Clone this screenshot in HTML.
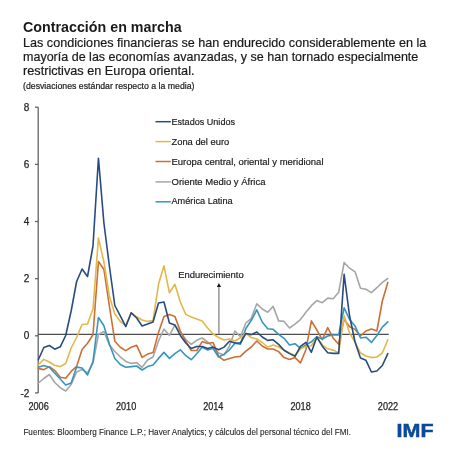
<!DOCTYPE html>
<html><head><meta charset="utf-8"><style>
html,body{margin:0;padding:0;background:#fff;width:455px;height:455px;overflow:hidden}
svg{display:block;will-change:transform}
</style></head><body>
<svg width="455" height="455" viewBox="0 0 455 455" font-family="Liberation Sans, sans-serif">
<rect width="455" height="455" fill="#fff"/>
<text x="23" y="32" font-size="15.2" font-weight="bold" fill="#1a1a1a" textLength="158.6" lengthAdjust="spacingAndGlyphs">Contracción en marcha</text>
<g font-size="12.6" fill="#1a1a1a" stroke="#1a1a1a" stroke-width="0.2">
<text x="23" y="47.1" textLength="403.3" lengthAdjust="spacingAndGlyphs">Las condiciones financieras se han endurecido considerablemente en la</text>
<text x="23" y="61.1" textLength="395.3" lengthAdjust="spacingAndGlyphs">mayoría de las economías avanzadas, y se han tornado especialmente</text>
<text x="23" y="75" textLength="171.5" lengthAdjust="spacingAndGlyphs">restrictivas en Europa oriental.</text>
</g>
<text x="23" y="88.9" font-size="8.8" fill="#1a1a1a" stroke="#1a1a1a" stroke-width="0.2" textLength="171.5" lengthAdjust="spacingAndGlyphs">(desviaciones estándar respecto a la media)</text>
<g stroke="#646464" stroke-width="1.3" fill="none">
<line x1="38.2" y1="107.2" x2="38.2" y2="392.9"/>
<line x1="35" y1="107.2" x2="38.2" y2="107.2"/><line x1="35" y1="164.35" x2="38.2" y2="164.35"/><line x1="35" y1="221.5" x2="38.2" y2="221.5"/><line x1="35" y1="278.65" x2="38.2" y2="278.65"/><line x1="35" y1="335.8" x2="38.2" y2="335.8"/><line x1="35" y1="392.9" x2="38.2" y2="392.9"/>
</g>
<line x1="38" y1="334.3" x2="388.8" y2="334.3" stroke="#4d4d52" stroke-width="1.25"/>
<g font-size="10" fill="#262626" stroke="#262626" stroke-width="0.25" text-anchor="end"><text x="29.4" y="110.8">8</text><text x="29.4" y="167.9">6</text><text x="29.4" y="225.1">4</text><text x="29.4" y="282.2">2</text><text x="29.4" y="339.4">0</text><text x="29.4" y="396.5">-2</text></g>
<g font-size="10" fill="#262626" stroke="#262626" stroke-width="0.25" text-anchor="middle" lengthAdjust="spacingAndGlyphs">
<text x="38.6" y="409.7" textLength="20.3" lengthAdjust="spacingAndGlyphs">2006</text>
<text x="126.1" y="409.7" textLength="20.3" lengthAdjust="spacingAndGlyphs">2010</text>
<text x="213.3" y="409.7" textLength="20.3" lengthAdjust="spacingAndGlyphs">2014</text>
<text x="300.6" y="409.7" textLength="20.3" lengthAdjust="spacingAndGlyphs">2018</text>
<text x="388" y="409.7" textLength="20.3" lengthAdjust="spacingAndGlyphs">2022</text>
</g>
<line x1="218.9" y1="334" x2="218.9" y2="286.5" stroke="#8f8f8f" stroke-width="1.4"/>
<path d="M218.9 283 L216.8 287 L221.1 287 Z" fill="#1a1a1a"/>
<text x="178.2" y="278.1" font-size="9.2" fill="#262626" stroke="#262626" stroke-width="0.2" textLength="65.5" lengthAdjust="spacingAndGlyphs">Endurecimiento</text>
<g fill="none" stroke-width="1.6" stroke-linejoin="round" stroke-linecap="round">
<polyline stroke="#a6a6a6" points="38.40,383.0 43.86,378.5 49.32,374.5 54.78,382.5 60.24,387.7 65.70,391.0 71.16,384.5 76.62,372.0 82.08,369.5 87.53,373.0 92.99,363.0 98.45,334.5 103.91,331.5 109.37,345.0 114.83,351.5 120.29,356.8 125.75,361.4 131.21,363.4 136.67,362.7 142.13,367.3 147.59,360.0 153.05,357.0 158.51,341.0 163.97,329.0 169.43,335.4 174.88,325.0 180.34,332.2 185.80,339.5 191.26,344.3 196.72,340.3 202.18,338.0 207.64,342.0 213.10,347.0 218.56,353.0 224.02,355.0 229.48,345.8 234.94,331.0 240.40,336.7 245.86,323.0 251.32,318.4 256.78,303.8 262.23,309.0 267.69,312.3 273.15,306.4 278.61,320.9 284.07,321.4 289.53,328.0 294.99,324.2 300.45,319.6 305.91,312.3 311.37,305.7 316.83,300.6 322.29,302.7 327.75,298.1 333.21,298.8 338.67,292.2 344.12,262.5 349.58,268.2 355.04,271.8 360.50,288.3 365.96,289.3 371.42,292.6 376.88,287.7 382.34,282.4 387.80,278.5"/>
<polyline stroke="#cd6f34" points="38.40,368.6 43.86,369.6 49.32,366.6 54.78,370.6 60.24,377.2 65.70,378.3 71.16,371.4 76.62,366.4 82.08,349.5 87.53,343.3 92.99,334.8 98.45,261.5 103.91,269.5 109.37,306.0 114.83,341.2 120.29,347.3 125.75,350.6 131.21,347.3 136.67,345.3 142.13,357.4 147.59,354.1 153.05,352.6 158.51,332.4 163.97,316.4 169.43,314.4 174.88,316.4 180.34,331.0 185.80,341.5 191.26,350.5 196.72,350.5 202.18,341.6 207.64,343.5 213.10,342.5 218.56,356.4 224.02,360.3 229.48,358.4 234.94,357.0 240.40,356.4 245.86,351.1 251.32,347.0 256.78,341.0 262.23,346.0 267.69,349.0 273.15,349.0 278.61,351.6 284.07,357.6 289.53,359.6 294.99,357.6 300.45,362.9 305.91,349.7 311.37,320.8 316.83,330.0 322.29,339.6 327.75,327.7 333.21,338.2 338.67,344.2 344.12,319.1 349.58,326.7 355.04,329.4 360.50,335.9 365.96,331.0 371.42,329.0 376.88,331.0 382.34,301.0 387.80,282.4"/>
<polyline stroke="#3696c0" points="38.40,367.3 43.86,365.6 49.32,367.3 54.78,373.2 60.24,379.0 65.70,385.0 71.16,383.0 76.62,367.1 82.08,368.0 87.53,375.0 92.99,361.5 98.45,317.5 103.91,325.7 109.37,344.0 114.83,358.5 120.29,364.5 125.75,367.3 131.21,366.6 136.67,366.0 142.13,370.0 147.59,366.6 153.05,365.0 158.51,358.4 163.97,352.4 169.43,358.4 174.88,353.7 180.34,349.8 185.80,355.7 191.26,359.7 196.72,353.7 202.18,347.1 207.64,350.0 213.10,348.5 218.56,357.0 224.02,354.4 229.48,349.8 234.94,343.2 240.40,344.3 245.86,328.5 251.32,320.3 256.78,309.8 262.23,322.0 267.69,328.7 273.15,329.3 278.61,334.3 284.07,338.3 289.53,345.1 294.99,343.7 300.45,348.4 305.91,345.0 311.37,341.8 316.83,336.7 322.29,339.0 327.75,336.0 333.21,335.0 338.67,335.0 344.12,307.9 349.58,319.5 355.04,326.1 360.50,338.0 365.96,337.2 371.42,342.4 376.88,335.5 382.34,327.1 387.80,321.9"/>
<polyline stroke="#e0b84b" points="38.40,364.7 43.86,359.4 49.32,362.0 54.78,365.3 60.24,366.6 65.70,363.5 71.16,348.0 76.62,337.5 82.08,324.5 87.53,324.0 92.99,309.0 98.45,238.0 103.91,262.0 109.37,296.0 114.83,314.0 120.29,321.5 125.75,325.5 131.21,312.8 136.67,316.8 142.13,320.0 147.59,321.4 153.05,320.5 158.51,284.3 163.97,265.8 169.43,292.8 174.88,284.3 180.34,302.0 185.80,314.4 191.26,317.0 196.72,319.0 202.18,321.0 207.64,328.0 213.10,334.0 218.56,337.5 224.02,340.0 229.48,339.0 234.94,341.0 240.40,337.7 245.86,333.4 251.32,337.5 256.78,339.0 262.23,342.5 267.69,347.0 273.15,345.1 278.61,347.0 284.07,350.3 289.53,353.0 294.99,355.6 300.45,349.0 305.91,346.4 311.37,345.7 316.83,337.1 322.29,344.8 327.75,348.8 333.21,350.1 338.67,352.7 344.12,315.8 349.58,333.0 355.04,342.0 360.50,353.0 365.96,356.0 371.42,357.6 376.88,357.0 382.34,353.0 387.80,339.8"/>
<polyline stroke="#284c7f" points="38.40,359.5 43.86,347.5 49.32,345.5 54.78,349.2 60.24,346.8 65.70,335.5 71.16,311.0 76.62,281.5 82.08,269.0 87.53,276.5 92.99,246.0 98.45,158.3 103.91,223.0 109.37,266.0 114.83,305.5 120.29,315.8 125.75,326.6 131.21,312.8 136.67,318.0 142.13,326.0 147.59,324.0 153.05,322.0 158.51,303.0 163.97,302.0 169.43,323.0 174.88,325.0 180.34,335.5 185.80,343.0 191.26,348.5 196.72,346.5 202.18,346.5 207.64,348.5 213.10,347.1 218.56,349.8 224.02,347.1 229.48,341.2 234.94,343.0 240.40,343.0 245.86,333.5 251.32,334.6 256.78,332.0 262.23,337.0 267.69,340.4 273.15,339.8 278.61,344.4 284.07,350.3 289.53,353.6 294.99,356.3 300.45,346.4 305.91,342.4 311.37,352.3 316.83,337.1 322.29,346.2 327.75,352.7 333.21,353.4 338.67,353.4 344.12,274.4 349.58,316.0 355.04,342.0 360.50,358.0 365.96,360.3 371.42,372.0 376.88,371.0 382.34,365.5 387.80,353.6"/>
</g>
<g stroke-width="1.5">
<line x1="155.5" y1="121.7" x2="170.8" y2="121.7" stroke="#284c7f"/>
<line x1="155.5" y1="141.6" x2="170.8" y2="141.6" stroke="#e0b84b"/>
<line x1="155.5" y1="161.5" x2="170.8" y2="161.5" stroke="#cd6f34"/>
<line x1="155.5" y1="181.9" x2="170.8" y2="181.9" stroke="#a6a6a6"/>
<line x1="155.5" y1="201.8" x2="170.8" y2="201.8" stroke="#3696c0"/>
</g>
<g font-size="9.5" fill="#1a1a1a" stroke="#1a1a1a" stroke-width="0.18">
<text x="171.5" y="125" textLength="63.5" lengthAdjust="spacingAndGlyphs">Estados Unidos</text>
<text x="171.5" y="144.7" textLength="57.7" lengthAdjust="spacingAndGlyphs">Zona del euro</text>
<text x="171.5" y="164.5" textLength="152" lengthAdjust="spacingAndGlyphs">Europa central, oriental y meridional</text>
<text x="171.5" y="184.5" textLength="94" lengthAdjust="spacingAndGlyphs">Oriente Medio y África</text>
<text x="171.5" y="204.3" textLength="61.1" lengthAdjust="spacingAndGlyphs">América Latina</text>
</g>
<text x="23.4" y="435.3" font-size="8.15" fill="#262626" stroke="#262626" stroke-width="0.1" textLength="327.6" lengthAdjust="spacing">Fuentes: Bloomberg Finance L.P.; Haver Analytics; y cálculos del personal técnico del FMI.</text>
<text x="396.6" y="437.2" font-size="19" font-weight="bold" fill="#0c4a98" stroke="#0c4a98" stroke-width="0.5" textLength="37" lengthAdjust="spacingAndGlyphs">IMF</text>
</svg>
</body></html>
